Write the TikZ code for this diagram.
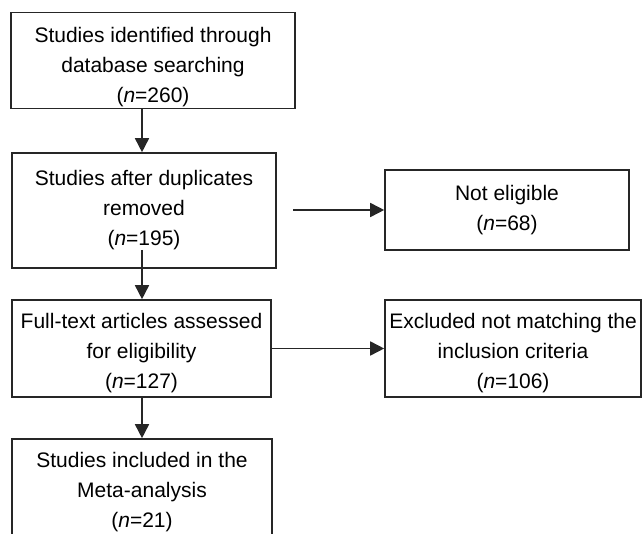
\documentclass[tikz,border=0pt]{standalone}
\usepackage{fontspec}
\setmainfont{Liberation Sans}
\usetikzlibrary{arrows.meta}
\begin{document}
\begin{tikzpicture}[x=1pt,y=-1pt,
  box/.style={draw=black!85,line width=1.6pt,align=center,inner sep=0pt,
    font=\fontsize{21}{30}\selectfont,text=black},
  arr/.style={draw=black!85,line width=1.6pt,-{Triangle[length=14pt,width=14pt]}}]
\useasboundingbox (0,0) rectangle (644,534);
\clip (0,0) rectangle (644,534);
\node[box,minimum width=284pt,minimum height=96pt,text height=89pt] (b1) at (153,60.5)
  {Studies identified through\\database searching\\(\textit{n}=260)};
\node[box,minimum width=264pt,minimum height=115pt] (b2) at (144,210.5)
  {Studies after duplicates\\removed\\(\textit{n}=195)};
\node[box,minimum width=259pt,minimum height=97pt,text height=85pt] (b3) at (141.5,348.5)
  {Full-text articles assessed\\for eligibility\\(\textit{n}=127)};
\node[box,minimum width=260pt,minimum height=106pt] (b4) at (142,492)
  {Studies included in the\\Meta-analysis\\(\textit{n}=21)};
\node[box,minimum width=244pt,minimum height=80pt] (ne) at (507,210)
  {Not eligible\\(\textit{n}=68)};
\node[box,minimum width=256pt,minimum height=97pt,text height=85pt] (ex) at (513,348.5)
  {Excluded not matching the\\inclusion criteria\\(\textit{n}=106)};
\coordinate (cx) at (142,0);
\coordinate (s2) at (142,250);
\coordinate (s4) at (293,210);
\draw[arr] (b1.south -| cx) -- (b2.north -| cx);
\draw[arr] (s2) -- (b3.north -| cx);
\draw[arr] (b3.south -| cx) -- (b4.north -| cx);
\draw[arr] (s4) -- (ne.west);
\draw[arr] (b3.east) -- (ex.west);
\end{tikzpicture}
\end{document}
